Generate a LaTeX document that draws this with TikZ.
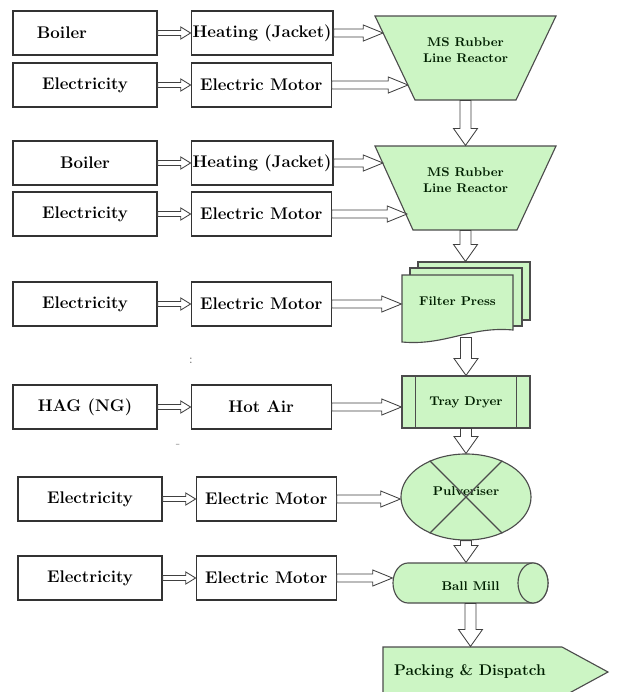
\documentclass[tikz,border=0pt]{standalone}
\usetikzlibrary{arrows.meta, positioning, shapes.geometric, calc}
\definecolor{procgreen}{RGB}{204,245,196}

\begin{document}
\begin{tikzpicture}[
  x=0.025cm, y=-0.025cm,
  font=\bfseries\fontsize{12}{14}\selectfont,
  node distance=1.0cm and 0.825cm,
  box/.style={draw=black!80, thick, rectangle, minimum height=1.1cm, minimum width=3.6cm, align=center},
  unit/.style={box, minimum width=3.5cm, inner xsep=1pt},
  proc/.style={draw=black!70, fill=procgreen, thick, font=\bfseries\fontsize{9}{11}\selectfont, text=green!12!black, align=center},
  label/.style={proc, draw=none, fill=none, rectangle},
  pipe/.style={draw=black!75, fill=white, line width=0.6pt},
  hpipe/.style args={#1/#2/#3}{pipe, to path={let \p1=(\tikztostart), \p2=(\tikztotarget) in
    (\x1,\y1+#1) -- (\x2-#3,\y1+#1) -- (\x2-#3,\y1+#2) -- (\x2,\y1) -- (\x2-#3,\y1-#2) -- (\x2-#3,\y1-#1) -- (\x1,\y1-#1) -- cycle}},
  vpipe/.style args={#1/#2/#3}{pipe, to path={let \p1=(\tikztostart), \p2=(\tikztotarget) in
    (\x1-#1,\y1) -- (\x1-#1,\y2+#3) -- (\x1-#2,\y2+#3) -- (\x1,\y2) -- (\x1+#2,\y2+#3) -- (\x1+#1,\y2+#3) -- (\x1+#1,\y1) -- cycle}},
  feed/.style={hpipe=1.8pt/4.3pt/7pt},
  drive/.style={hpipe=2.8pt/5.7pt/14pt},
  flow/.style={vpipe=3.9pt/8.5pt/12pt}
]
  \useasboundingbox (0,0) rectangle (617,692);

  % reactor 1
  \node[box, inner xsep=0.6cm, text width=2.4cm, align=left] (boil1) at (85,33) {Boiler};
  \node[unit, right=of boil1] (heat1) {Heating (Jacket)};
  \node[box] (elec1) at (85,85) {Electricity};
  \node[unit, right=of elec1] (mot1) {Electric Motor};
  \draw[proc] (375,16) -- (556,16) -- (516,100) -- (415,100) -- cycle;
  \node[label, minimum width=4.525cm, minimum height=2.1cm] (reac1) at (465.5,58) {MS Rubber\\Line Reactor\\~};
  \coordinate (reac1a) at (383,33);
  \coordinate (reac1b) at (408,85);

  % reactor 2
  \node[box] (boil2) at (85,163) {Boiler};
  \node[unit, right=of boil2] (heat2) {Heating (Jacket)};
  \node[box] (elec2) at (85,214) {Electricity};
  \node[unit, right=of elec2] (mot2) {Electric Motor};
  \draw[proc] (375,146) -- (556,146) -- (517,230) -- (413,230) -- cycle;
  \node[label, minimum width=4.525cm, minimum height=2.1cm] (reac2) at (465.5,188) {MS Rubber\\Line Reactor\\~};
  \coordinate (reac2a) at (383,163);
  \coordinate (reac2b) at (407,214);

  % filter press (stacked sheets)
  \draw[proc] (418,262) rectangle (530,320);
  \draw[proc] (410,268) rectangle (522,326);
  \draw[proc] (402,275) -- (513,275) -- (513,330) .. controls (470,326) and (445,346) .. (402,342) -- cycle;
  \node[label, minimum width=2.775cm, minimum height=1.675cm] (fp) at (457.5,308.5) {Filter Press\\~};
  \coordinate (fptop) at ($(fp.north)+(0,-13)$);
  \coordinate (fpbot) at ($(fp.south)+(0,-5)$);
  \node[box] (elec3) at (85,304) {Electricity};
  \node[unit, right=of elec3] (mot3) {Electric Motor};

  % tray dryer
  \node[box] (hag) at (85,407) {HAG (NG)};
  \node[unit, right=of hag] (hot) {Hot Air};
  \node[proc, rectangle, minimum width=3.2cm, minimum height=1.3cm] (td) at (466,402) {Tray Dryer};
  \draw[black!70, thick] ($(td.north west)+(14,0)$) -- ($(td.south west)+(14,0)$)
                         ($(td.north east)+(-14,0)$) -- ($(td.south east)+(-14,0)$);

  % pulveriser
  \node[box] (elec5) at (90,499) {Electricity};
  \node[unit, right=of elec5] (mot5) {Electric Motor};
  \node[proc, ellipse, minimum width=3.25cm, minimum height=2.15cm] (pul) at (466,497) {Pulveriser\\[-2pt]~};
  \draw[black!70, thick] (pul.45) -- (pul.225) (pul.135) -- (pul.315);

  % ball mill (drum)
  \node[box] (elec6) at (90,578) {Electricity};
  \node[unit, right=of elec6] (mot6) {Electric Motor};
  \draw[proc] (408,563) -- (533,563) arc[start angle=90, end angle=-90, x radius=0.375cm, y radius=0.5cm]
              -- (408,603) arc[start angle=270, end angle=90, x radius=0.375cm, y radius=0.5cm] -- cycle;
  \draw[proc] (533,583) ellipse[x radius=0.375cm, y radius=0.5cm];
  \node[label, minimum width=3.875cm, minimum height=1cm] (bm) at (470.5,583) {\\Ball Mill};

  % packing
  \draw[proc] (383,647) -- (562,647) -- (608,672) -- (562,697) -- (383,697) -- cycle;
  \node[label, minimum width=4.475cm, minimum height=1.25cm, font=\bfseries\fontsize{11}{13}\selectfont] (pack) at (470,672) {Packing \& Dispatch};

  % stray marks
  \node[font=\small, text=black!60] (mark1) at (191,361) {:};
  \node[font=\small, text=black!40] (mark2) at (178,446) {-};

  % feeds
  \foreach \a/\b in {boil1/heat1, elec1/mot1, boil2/heat2, elec2/mot2, elec3/mot3, hag/hot, elec5/mot5, elec6/mot6}
    \draw[feed] (\a.east) to (\b.west);

  % drives
  \draw[drive] (heat1.east) to (reac1a);
  \draw[drive] (mot1.east) to (reac1b);
  \draw[drive] (heat2.east) to (reac2a);
  \draw[drive] (mot2.east) to (reac2b);
  \draw[drive] (mot3.east) to (mot3.east -| fp.west);
  \draw[drive] (hot.east) to (hot.east -| td.west);
  \draw[drive] (mot5.east) to (mot5.east -| pul.west);
  \draw[drive] (mot6.east) to (mot6.east -| bm.west);

  % main flow
  \draw[flow] (reac1.south) to (reac2.north);
  \draw[flow] (reac2.south) to (reac2.south |- fptop);
  \draw[flow] (fpbot -| td.north) to (td.north);
  \draw[flow] (td.south) to (pul.north);
  \draw[flow] (pul.south) to (pul.south |- bm.north);
  \draw[flow] (bm.south) to (bm.south |- pack.north);

\end{tikzpicture}
\end{document}
